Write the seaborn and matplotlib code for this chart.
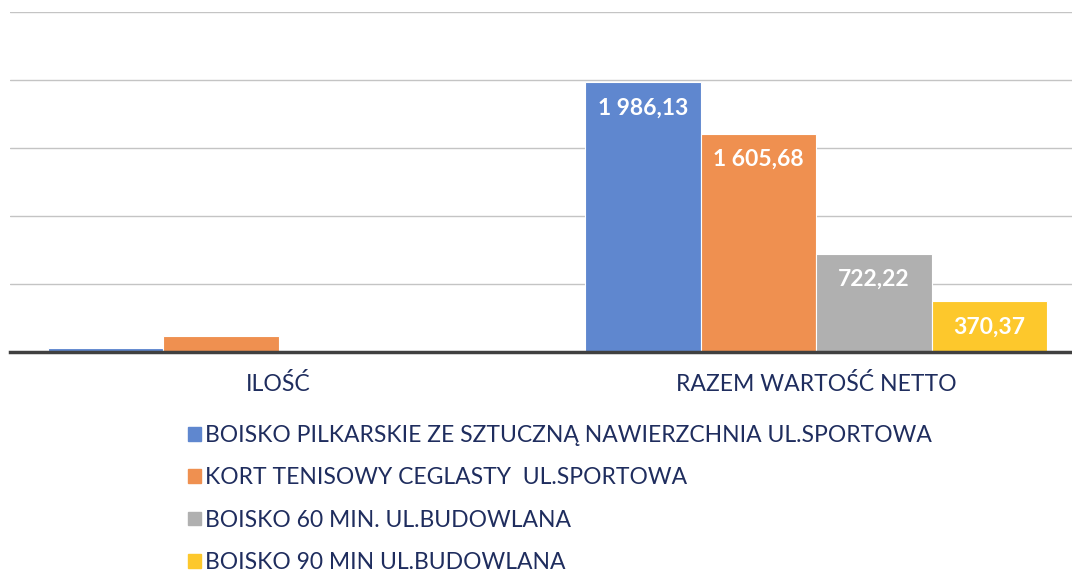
import matplotlib
matplotlib.use("Agg")
import matplotlib.pyplot as plt
import matplotlib.patches as mpatches
import seaborn as sns
import pandas as pd

categories = ["ILOŚĆ", "RAZEM WARTOŚĆ NETTO"]
series = [
    "BOISKO PILKARSKIE ZE SZTUCZNĄ NAWIERZCHNIA UL.SPORTOWA",
    "KORT TENISOWY CEGLASTY  UL.SPORTOWA",
    "BOISKO 60 MIN. UL.BUDOWLANA",
    "BOISKO 90 MIN UL.BUDOWLANA",
]
ilosc = [27, 116, 0, 0]
razem_netto = [1986.13, 1605.68, 722.22, 370.37]
colors = ["#5f87cf", "#ef9050", "#b0b0b0", "#fdc82c"]

rows = []
for s, a, b in zip(series, ilosc, razem_netto):
    rows.append({"kat": categories[0], "seria": s, "wartosc": a})
    rows.append({"kat": categories[1], "seria": s, "wartosc": b})
df = pd.DataFrame(rows)

sns.set_style("white")
plt.rcParams["font.family"] = ["Lato", "DejaVu Sans"]
navy = "#1f2d5e"

fig = plt.figure(figsize=(10.72, 5.74), dpi=100)
W, H = 1072, 574
ax = fig.add_axes([10 / W, 1 - 351.5 / H, 1075 / W, (351.5 - 12.3) / H])

sns.barplot(data=df, x="kat", y="wartosc", hue="seria", order=categories,
            hue_order=series, palette=colors, saturation=1, width=0.86, ax=ax,
            edgecolor="white", linewidth=0.8, legend=False, errorbar=None)

ax.set_xlim(-0.5, 1.5)
ax.set_ylim(0, 2500)
ax.set_yticks([0, 500, 1000, 1500, 2000, 2500])
ax.set_yticklabels([])
ax.tick_params(left=False, bottom=False)
ax.grid(axis="y", color="#c4c4c4", linewidth=1.0)
ax.set_axisbelow(True)
for side in ["top", "right", "left"]:
    ax.spines[side].set_visible(False)
ax.spines["bottom"].set_color("#404040")
ax.spines["bottom"].set_linewidth(2.5)
ax.set_xlabel("")
ax.set_ylabel("")
ax.set_xticks([0, 1])
ax.set_xticklabels(categories, color=navy, fontsize=16.6)
ax.tick_params(axis="x", pad=12)

# etykiety danych tylko dla drugiej grupy
for cont in ax.containers:
    for bar in cont:
        val = bar.get_height()
        if val < 300:
            continue
        txt = f"{val:,.2f}".replace(",", " ").replace(".", ",")
        ax.annotate(txt, (bar.get_x() + bar.get_width() / 2, val),
                    xytext=(0, -26), textcoords="offset pixels",
                    ha="center", va="center", color="white",
                    fontsize=16.5, fontweight="bold")

handles = [mpatches.Patch(color=c) for c in colors]
fig.legend(handles, series, loc="upper left", bbox_to_anchor=(188 / W, 1 - 425 / H),
           frameon=False, fontsize=16.5, labelcolor=navy, handlelength=0.55,
           handleheight=0.55, handletextpad=0.2, labelspacing=0.93,
           borderaxespad=0, borderpad=0)

plt.savefig("out.png", dpi=100)
plt.close()
print("zapisano out.png")
